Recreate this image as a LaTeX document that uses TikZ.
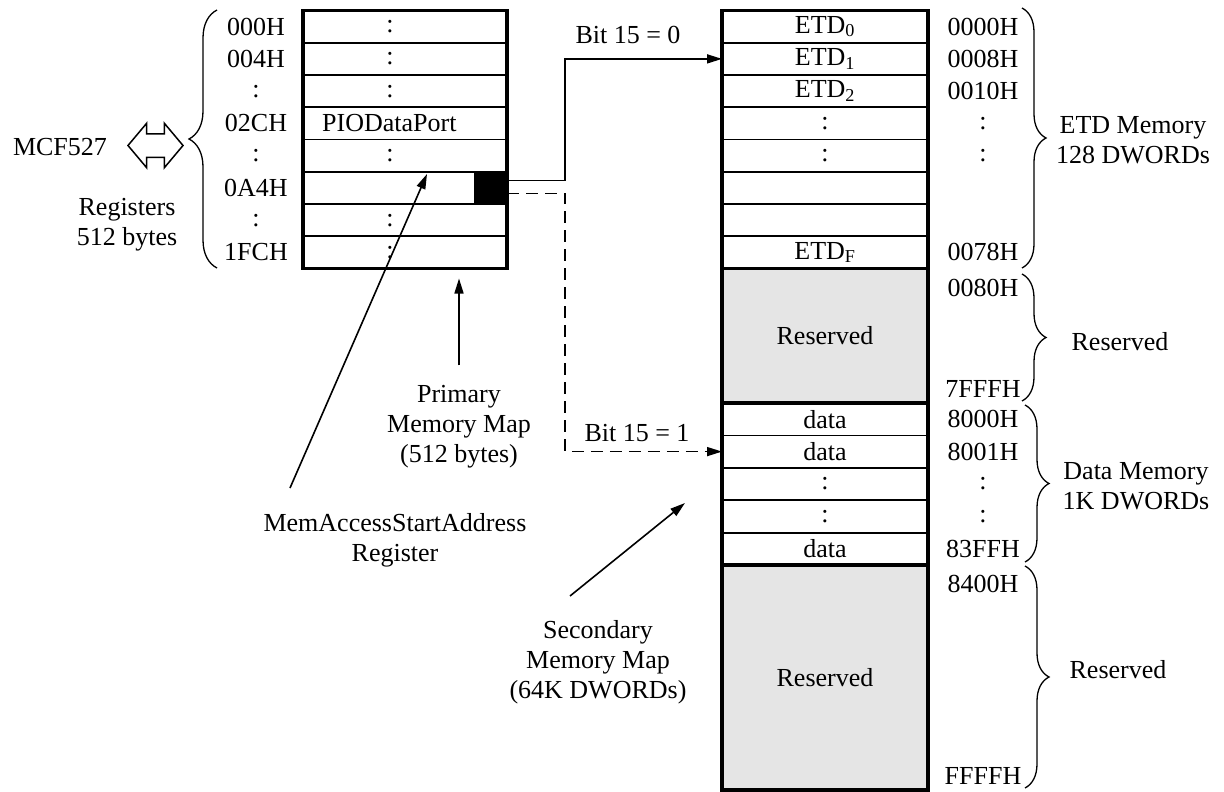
\documentclass[tikz,border=0pt]{standalone}
\usepackage{xcolor}
\usepackage{fontspec}
\setmainfont{Liberation Serif}
\usepackage{tikz}
\usetikzlibrary{calc,arrows.meta,decorations.pathreplacing,shapes.arrows}

\begin{document}
\begin{tikzpicture}[x=1pt,y=-1pt,
		font=\fontsize{26}{30}\selectfont,
		>={Triangle[length=15pt,width=9pt]},
		cell/.style={draw,line width=1.8pt,minimum width=206pt,minimum height=32.25pt,inner sep=0pt,outer sep=0pt},
		lcell/.style={cell,minimum width=204pt},
		resv/.style={cell,fill=gray!20},
		txt/.style={align=center,inner sep=0pt},
		conn/.style={line width=1.6pt},
		brc/.style={decorate,decoration={brace,amplitude=#1},line width=1.3pt}]
		\useasboundingbox (0,0) rectangle (1224,792);

		% primary map (512 bytes)
		\foreach \i in {1,...,8}
			\node[lcell] (p\i) at (405,{10.5+32.25*(\i-0.5)}) {};
		\foreach \i in {1,2,3,5,7,8}
			\node[inner sep=0pt] at (390,{10.5+32.25*(\i-0.5)}) {:};
		\node[anchor=west,inner sep=0pt] (pio) at (322,123.4) {PIODataPort};
		\node[fill=black,minimum width=33pt,minimum height=32.25pt,inner sep=0pt,outer sep=0pt] (blk) at (490.5,187.9) {};
		\draw[line width=3.5pt] (p1.north west) rectangle (p8.south east);

		\node (a000) at (256,26.6) {000H};
		\node (a004) at (256,58.9) {004H};
		\node at (256,91.1) {:};
		\node (a02c) at (256,123.4) {02CH};
		\node at (256,155.6) {:};
		\node (a0a4) at (256,187.9) {0A4H};
		\node at (256,220.1) {:};
		\node (a1fc) at (256,252.4) {1FCH};
		\draw[brc=28pt] (217,268) -- (217,10);

		\node (mcf) at (60,147) {MCF527};
		\node[draw,double arrow,line width=1.5pt,minimum height=55pt,inner xsep=0pt,inner ysep=11pt,
			double arrow head extend=10.5pt,double arrow tip angle=100] (dbl) at (155.5,145.5) {};
		\node[txt] (regs) at (127,225) {Registers\\512 bytes};

		% secondary map (64K DWORDs)
		\node[cell] (e1) at (825,26.6) {ETD\textsubscript{0}};
		\node[cell] (e2) at (825,58.9) {ETD\textsubscript{1}};
		\node[cell] (e3) at (825,91.1) {ETD\textsubscript{2}};
		\node[cell] (e4) at (825,123.4) {:};
		\node[cell] (e5) at (825,155.6) {:};
		\node[cell] (e6) at (825,187.9) {};
		\node[cell] (e7) at (825,220.1) {};
		\node[cell] (e8) at (825,252.4) {ETD\textsubscript{F}};
		\node[resv,minimum height=134.5pt] (r1) at (825,335.75) {Reserved};
		\node[cell,minimum height=32.4pt] (d1) at (825,419.2) {data};
		\node[cell,minimum height=32.4pt] (d2) at (825,451.6) {data};
		\node[cell,minimum height=32.4pt] (d3) at (825,484) {:};
		\node[cell,minimum height=32.4pt] (d4) at (825,516.4) {:};
		\node[cell,minimum height=32.4pt] (d5) at (825,548.8) {data};
		\node[resv,minimum height=225pt] (r2) at (825,677.5) {Reserved};
		\draw[line width=3.5pt] (e1.north west) rectangle (r2.south east);
		\draw[line width=3.5pt] (r1.north west) -- (r1.north east);
		\draw[line width=3.5pt] (r1.south west) -- (r1.south east);
		\draw[line width=3.5pt] (r2.north west) -- (r2.north east);

		\node at (983,26.6) {0000H};
		\node at (983,58.9) {0008H};
		\node at (983,91.1) {0010H};
		\node at (983,123.4) {:};
		\node at (983,155.6) {:};
		\node at (983,252.4) {0078H};
		\node at (983,288) {0080H};
		\node at (983,389) {7FFFH};
		\node at (983,419.2) {8000H};
		\node at (983,451.6) {8001H};
		\node at (983,484) {:};
		\node at (983,516.4) {:};
		\node at (983,548.8) {83FFH};
		\node at (983,584) {8400H};
		\node at (983,776) {FFFFH};

		\draw[brc=24pt] (1022,8) -- (1022,268);
		\draw[brc=24pt] (1022,274) -- (1022,401);
		\draw[brc=24pt] (1025,405) -- (1025,562);
		\draw[brc=24pt] (1025,566) -- (1025,788);
		\node[txt] (etdmem) at (1133,140) {ETD Memory\\128 DWORDs};
		\node (res1) at (1120,342) {Reserved};
		\node[txt] (datmem) at (1136,486) {Data Memory\\1K DWORDs};
		\node (res2) at (1118,670) {Reserved};

		% bit 15 selects the map
		\coordinate (fork) at (565,0);
		\draw[conn,->] ([yshift=7.5pt]blk.east) -| (fork |- e2.west) -- (e2.west);
		\draw[conn,dash pattern=on 12pt off 7pt,->] ([yshift=-5.5pt]blk.east) -| (fork |- d2.west) -- (d2.west);
		\node (b0) at (628,35) {Bit 15 = 0};
		\node (b1) at (637,433) {Bit 15 = 1};

		% callouts
		\node[txt] (prim) at (459,427) {Primary\\Memory Map\\(512 bytes)};
		\node[txt] (memreg) at (395,540) {MemAccessStartAddress\\Register};
		\node[txt] (sec) at (598,662) {Secondary\\Memory Map\\(64K DWORDs)};
		\draw[conn,->] ([yshift=20pt]prim.north) -- ([yshift=-10pt]prim.north |- p8.south);
		\coordinate (mtail) at (290,488);
		\coordinate (mtip) at (427,174);
		\draw[conn,->] (mtail) -- (mtip);
		\coordinate (stail) at (570,596);
		\coordinate (stip) at (685,503);
		\draw[conn,->] (stail) -- (stip);
	\end{tikzpicture}
\end{document}
